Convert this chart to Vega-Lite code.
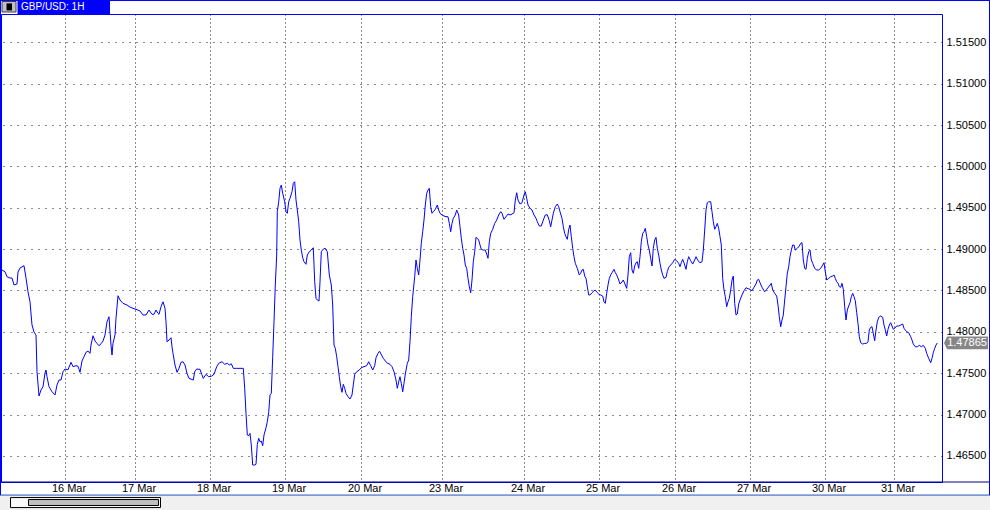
{
"$schema": "https://vega.github.io/schema/vega-lite/v6.json",
"width": 941, "height": 468,
"autosize": {"type": "none"},
"padding": {"left": 1, "top": 14, "right": 48, "bottom": 28},
"background": "white",
"config": {"view": {"stroke": "#0000ff", "strokeWidth": 1}, "font": "Liberation Sans"},
"datasets": {
"gbpusd": [
{"t":2,"p":1.48747},{"t":5,"p":1.48726},{"t":7,"p":1.48666},{"t":10,"p":1.48650},{"t":12,"p":1.48650},{"t":14,"p":1.48566},{"t":17,"p":1.48578},{"t":18,"p":1.48723},{"t":20,"p":1.48771},{"t":24,"p":1.48799},{"t":26,"p":1.48650},{"t":28,"p":1.48484},{"t":30,"p":1.48363},{"t":32,"p":1.48082},{"t":34,"p":1.47997},{"t":36,"p":1.47961},{"t":37,"p":1.47517},{"t":39,"p":1.47224},{"t":41,"p":1.47296},{"t":43,"p":1.47336},{"t":45,"p":1.47502},{"t":46,"p":1.47538},{"t":47,"p":1.47457},{"t":49,"p":1.47336},{"t":52,"p":1.47275},{"t":55,"p":1.47236},{"t":57,"p":1.47357},{"t":59,"p":1.47417},{"t":61,"p":1.47417},{"t":63,"p":1.47517},{"t":65,"p":1.47550},{"t":68,"p":1.47541},{"t":71,"p":1.47631},{"t":73,"p":1.47578},{"t":76,"p":1.47590},{"t":78,"p":1.47583},{"t":80,"p":1.47510},{"t":82,"p":1.47647},{"t":84,"p":1.47698},{"t":86,"p":1.47752},{"t":88,"p":1.47767},{"t":90,"p":1.47739},{"t":91,"p":1.47840},{"t":93,"p":1.47952},{"t":95,"p":1.47888},{"t":97,"p":1.47860},{"t":99,"p":1.47831},{"t":101,"p":1.47855},{"t":103,"p":1.47888},{"t":105,"p":1.47961},{"t":107,"p":1.48121},{"t":109,"p":1.48182},{"t":111,"p":1.47840},{"t":112,"p":1.47719},{"t":113,"p":1.47860},{"t":115,"p":1.47961},{"t":116,"p":1.48163},{"t":118,"p":1.48436},{"t":120,"p":1.48384},{"t":123,"p":1.48344},{"t":127,"p":1.48324},{"t":130,"p":1.48299},{"t":133,"p":1.48284},{"t":137,"p":1.48267},{"t":140,"p":1.48251},{"t":143,"p":1.48203},{"t":146,"p":1.48203},{"t":149,"p":1.48263},{"t":152,"p":1.48211},{"t":154,"p":1.48211},{"t":156,"p":1.48263},{"t":158,"p":1.48223},{"t":159,"p":1.48211},{"t":161,"p":1.48303},{"t":163,"p":1.48363},{"t":165,"p":1.48284},{"t":166,"p":1.48121},{"t":167,"p":1.47880},{"t":169,"p":1.47900},{"t":171,"p":1.47928},{"t":172,"p":1.47819},{"t":173,"p":1.47739},{"t":175,"p":1.47598},{"t":177,"p":1.47510},{"t":179,"p":1.47558},{"t":181,"p":1.47631},{"t":183,"p":1.47638},{"t":185,"p":1.47598},{"t":187,"p":1.47498},{"t":189,"p":1.47437},
{"t":193.3,"p":1.47417},{"t":194.7,"p":1.47517},{"t":196.7,"p":1.47550},{"t":200,"p":1.47546},{"t":201.7,"p":1.47486},{"t":203.3,"p":1.47437},{"t":206,"p":1.47486},{"t":208.7,"p":1.47457},{"t":211.3,"p":1.47462},{"t":214,"p":1.47486},{"t":216.7,"p":1.47578},{"t":218.7,"p":1.47619},{"t":222,"p":1.47638},{"t":224.7,"p":1.47607},{"t":227.3,"p":1.47619},{"t":229.3,"p":1.47598},{"t":231.3,"p":1.47614},{"t":233.3,"p":1.47558},{"t":236.7,"p":1.47558},{"t":240,"p":1.47558},{"t":243.3,"p":1.47558},{"t":244.7,"p":1.47317},{"t":246,"p":1.47014},{"t":247.3,"p":1.46752},{"t":248.7,"p":1.46743},{"t":250,"p":1.46772},{"t":251.3,"p":1.46631},{"t":252.7,"p":1.46389},{"t":254.7,"p":1.46389},{"t":256,"p":1.46398},{"t":257.3,"p":1.46639},{"t":258.7,"p":1.46712},{"t":260,"p":1.46671},{"t":261.3,"p":1.46679},{"t":262.7,"p":1.46622},{"t":264,"p":1.46752},{"t":266,"p":1.46840},{"t":267.3,"p":1.46913},{"t":268.7,"p":1.47026},{"t":270,"p":1.47236},{"t":271.3,"p":1.47256},{"t":272.7,"p":1.47698},{"t":274,"p":1.48121},{"t":275.3,"p":1.48566},{"t":276.7,"p":1.48928},{"t":277.3,"p":1.49452},{"t":278.7,"p":1.49572},{"t":280,"p":1.49735},{"t":281.3,"p":1.49774},{"t":282.7,"p":1.49674},{"t":284.7,"p":1.49572},{"t":286,"p":1.49452},{"t":287.3,"p":1.49432},{"t":288.7,"p":1.49572},{"t":290,"p":1.49614},{"t":292,"p":1.49693},{"t":293.3,"p":1.49795},{"t":294.7,"p":1.49814},{"t":296,"p":1.49593},{"t":297.3,"p":1.49472},{"t":298.7,"p":1.49331},{"t":300,"p":1.49109},{"t":301.3,"p":1.48988},{"t":302.7,"p":1.48895},{"t":304,"p":1.48847},{"t":306,"p":1.48816},{"t":307.3,"p":1.48928},{"t":309.3,"p":1.48968},{"t":311.3,"p":1.48988},{"t":313.3,"p":1.49016},{"t":314.7,"p":1.48605},{"t":316,"p":1.48405},{"t":317.3,"p":1.48384},{"t":319,"p":1.48372},{"t":320,"p":1.48605},{"t":321.3,"p":1.48968},{"t":323.3,"p":1.49000},{"t":325.3,"p":1.49009},{"t":327.3,"p":1.48968},{"t":329.3,"p":1.48687},{"t":331.3,"p":1.48566},{"t":332.7,"p":1.48324},{"t":334,"p":1.47840},{"t":335.3,"p":1.47800},{"t":336.7,"p":1.47698},{"t":338,"p":1.47578},{"t":339.3,"p":1.47457},{"t":340.7,"p":1.47336},{"t":342,"p":1.47268},{"t":343.3,"p":1.47365},{"t":344.7,"p":1.47317},{"t":346,"p":1.47256},{"t":348,"p":1.47215},{"t":350,"p":1.47187},{"t":352,"p":1.47236},{"t":353.3,"p":1.47357},{"t":354.7,"p":1.47486},{"t":356.7,"p":1.47517},{"t":359.3,"p":1.47538},{"t":361.3,"p":1.47566},{"t":364,"p":1.47578},{"t":366.7,"p":1.47590},{"t":368.7,"p":1.47638},{"t":370.7,"p":1.47590},{"t":372.7,"p":1.47538},{"t":374.7,"p":1.47590},{"t":376,"p":1.47686},{"t":378,"p":1.47739},{"t":379.5,"p":1.47765},{"t":383.3,"p":1.47679},{"t":386.7,"p":1.47626},{"t":390,"p":1.47607},{"t":392,"p":1.47578},{"t":394,"p":1.47517},{"t":396,"p":1.47417},{"t":397.3,"p":1.47317},{"t":398.7,"p":1.47396},{"t":400,"p":1.47457},{"t":401.3,"p":1.47377},{"t":402.7,"p":1.47275},{"t":404,"p":1.47377},{"t":405.3,"p":1.47489},{"t":407.3,"p":1.47619},{"t":408.7,"p":1.47659},{"t":410,"p":1.47880},{"t":411.3,"p":1.48182},{"t":412.7,"p":1.48424},{"t":414.7,"p":1.48666},{"t":416,"p":1.48868},{"t":417.3,"p":1.48767},{"t":418.7,"p":1.48687},{"t":420,"p":1.48868},{"t":421.3,"p":1.49069},{"t":422.7,"p":1.49210},{"t":424,"p":1.49351},{"t":425.3,"p":1.49533},{"t":426.7,"p":1.49674},{"t":428,"p":1.49714},{"t":429.3,"p":1.49735},{"t":430.7,"p":1.49512},{"t":432,"p":1.49432},{"t":433.3,"p":1.49452},{"t":435.3,"p":1.49481},{"t":437.3,"p":1.49533},{"t":438.7,"p":1.49472},{"t":440,"p":1.49432},{"t":442,"p":1.49412},{"t":444,"p":1.49400},{"t":446,"p":1.49391},{"t":448,"p":1.49391},{"t":449.3,"p":1.49311},{"t":450.7,"p":1.49210},{"t":452,"p":1.49311},{"t":453.3,"p":1.49372},{"t":455.3,"p":1.49412},{"t":456.7,"p":1.49472},{"t":458.7,"p":1.49412},{"t":460,"p":1.49270},{"t":461.3,"p":1.49130},{"t":462.7,"p":1.49009},{"t":464,"p":1.48928},{"t":465.3,"p":1.48807},{"t":466.7,"p":1.48767},{"t":468,"p":1.48646},{"t":469.3,"p":1.48545},{"t":470.7,"p":1.48472},{"t":472,"p":1.48626},{"t":473.3,"p":1.48847},{"t":474.7,"p":1.48968},{"t":476,"p":1.49142},{"t":477.3,"p":1.49130},{"t":478.7,"p":1.49109},{"t":480,"p":1.49049},{"t":481.3,"p":1.48997},{"t":483.3,"p":1.48988},{"t":485.3,"p":1.48988},{"t":486.7,"p":1.48940},{"t":488,"p":1.48888},{"t":489.3,"p":1.49089},{"t":490.7,"p":1.49190},{"t":492.7,"p":1.49239},{"t":494.7,"p":1.49311},{"t":496.7,"p":1.49351},{"t":498.7,"p":1.49412},{"t":500.7,"p":1.49452},{"t":502,"p":1.49432},{"t":504,"p":1.49360},{"t":506,"p":1.49391},{"t":508,"p":1.49424},{"t":510,"p":1.49412},{"t":512,"p":1.49424},{"t":514,"p":1.49439},{"t":515.3,"p":1.49593},{"t":516.7,"p":1.49681},{"t":518,"p":1.49593},{"t":520,"p":1.49545},{"t":522,"p":1.49560},{"t":524,"p":1.49654},{"t":525.3,"p":1.49693},{"t":526.7,"p":1.49614},{"t":528,"p":1.49533},{"t":530,"p":1.49493},{"t":532,"p":1.49472},{"t":534,"p":1.49412},{"t":536,"p":1.49372},{"t":537.3,"p":1.49331},{"t":539.3,"p":1.49279},{"t":541.3,"p":1.49279},{"t":543.3,"p":1.49351},{"t":545.3,"p":1.49412},{"t":547.3,"p":1.49415},{"t":549.3,"p":1.49343},{"t":550.7,"p":1.49270},{"t":552,"p":1.49351},{"t":553.3,"p":1.49432},{"t":555.3,"p":1.49512},{"t":557.3,"p":1.49545},{"t":558.7,"p":1.49512},{"t":560,"p":1.49452},{"t":562,"p":1.49372},{"t":563.3,"p":1.49270},{"t":564.7,"p":1.49190},{"t":566,"p":1.49150},{"t":567.3,"p":1.49118},{"t":568.7,"p":1.49239},{"t":570,"p":1.49291},{"t":571.3,"p":1.49150},{"t":572.7,"p":1.49009},{"t":574,"p":1.48908},{"t":575.3,"p":1.48828},{"t":577.3,"p":1.48767},{"t":579.3,"p":1.48687},{"t":580.7,"p":1.48707},{"t":582,"p":1.48747},{"t":583.3,"p":1.48755},{"t":584.7,"p":1.48674},{"t":586,"p":1.48646},{"t":587.3,"p":1.48545},{"t":588.7,"p":1.48445},{"t":590,"p":1.48445},{"t":592,"p":1.48472},{"t":594,"p":1.48496},{"t":595.3,"p":1.48505},{"t":596.7,"p":1.48481},{"t":598.7,"p":1.48457},{"t":600.7,"p":1.48445},{"t":602.7,"p":1.48432},{"t":604,"p":1.48363},{"t":605.3,"p":1.48344},{"t":606.7,"p":1.48465},{"t":608,"p":1.48566},{"t":609.3,"p":1.48646},{"t":610.7,"p":1.48687},{"t":612,"p":1.48714},{"t":614,"p":1.48755},{"t":615.3,"p":1.48714},{"t":616.7,"p":1.48687},{"t":618.7,"p":1.48626},{"t":620,"p":1.48578},{"t":622,"p":1.48602},{"t":623.3,"p":1.48626},{"t":625.3,"p":1.48566},{"t":626.7,"p":1.48525},{"t":628,"p":1.48687},{"t":629.3,"p":1.48908},{"t":630.7,"p":1.48956},{"t":632,"p":1.48747},{"t":633.3,"p":1.48707},{"t":634.7,"p":1.48795},{"t":636,"p":1.48835},{"t":637.3,"p":1.48847},{"t":638.7,"p":1.48767},{"t":640,"p":1.48908},{"t":641.3,"p":1.49089},{"t":642.7,"p":1.49190},{"t":644,"p":1.49210},{"t":645.3,"p":1.49251},{"t":646.7,"p":1.49150},{"t":648,"p":1.49049},{"t":649.3,"p":1.48988},{"t":650.7,"p":1.48888},{"t":652,"p":1.48795},{"t":653.3,"p":1.49009},{"t":654.7,"p":1.49109},{"t":656,"p":1.49142},{"t":657.3,"p":1.49009},{"t":658.7,"p":1.48928},{"t":660,"p":1.48828},{"t":661.3,"p":1.48747},{"t":662.7,"p":1.48687},{"t":664,"p":1.48646},{"t":666,"p":1.48658},{"t":667.3,"p":1.48726},{"t":668.7,"p":1.48779},{"t":670.7,"p":1.48807},{"t":672.7,"p":1.48835},{"t":674.7,"p":1.48876},{"t":676.7,"p":1.48859},{"t":678.7,"p":1.48828},{"t":680,"p":1.48787},{"t":681.3,"p":1.48835},{"t":682.7,"p":1.48876},{"t":684,"p":1.48835},{"t":686,"p":1.48755},{"t":687.3,"p":1.48847},{"t":688.7,"p":1.48908},{"t":690.7,"p":1.48859},{"t":692.7,"p":1.48819},{"t":694.7,"p":1.48868},{"t":696,"p":1.48908},{"t":698,"p":1.48859},{"t":700,"p":1.48835},{"t":702,"p":1.48847},{"t":703.3,"p":1.48988},{"t":704.7,"p":1.49230},{"t":706,"p":1.49472},{"t":707.3,"p":1.49560},{"t":708.7,"p":1.49572},{"t":710.7,"p":1.49572},{"t":712,"p":1.49452},{"t":713.3,"p":1.49331},{"t":714.7,"p":1.49239},{"t":716,"p":1.49270},{"t":717.3,"p":1.49311},{"t":718.7,"p":1.49251},{"t":720,"p":1.49150},{"t":721.3,"p":1.49049},{"t":722.7,"p":1.48646},{"t":724,"p":1.48505},{"t":725.3,"p":1.48424},{"t":726.7,"p":1.48303},{"t":728,"p":1.48363},{"t":729.3,"p":1.48405},{"t":730.7,"p":1.48505},{"t":732,"p":1.48626},{"t":733.3,"p":1.48674},{"t":734.7,"p":1.48344},{"t":736,"p":1.48203},{"t":737.3,"p":1.48215},{"t":738.7,"p":1.48336},{"t":740,"p":1.48384},{"t":742,"p":1.48445},{"t":744,"p":1.48496},{"t":746,"p":1.48533},{"t":748,"p":1.48521},{"t":750,"p":1.48513},{"t":752,"p":1.48496},{"t":754,"p":1.48538},{"t":756,"p":1.48578},{"t":757.3,"p":1.48626},{"t":758.7,"p":1.48634},{"t":760,"p":1.48593},{"t":762,"p":1.48538},{"t":764.7,"p":1.48484},{"t":766.7,"p":1.48513},{"t":769.3,"p":1.48553},{"t":771.3,"p":1.48586},{"t":772.7,"p":1.48505},{"t":774.7,"p":1.48465},{"t":776.7,"p":1.48432},{"t":778,"p":1.48324},{"t":779.3,"p":1.48182},{"t":780.7,"p":1.48061},{"t":782,"p":1.48142},{"t":783.3,"p":1.48203},{"t":784.7,"p":1.48384},{"t":786,"p":1.48545},{"t":787.3,"p":1.48707},{"t":788.7,"p":1.48787},{"t":790,"p":1.48908},{"t":791.3,"p":1.48988},{"t":792.7,"p":1.49049},{"t":794,"p":1.49049},{"t":795.3,"p":1.48988},{"t":797.3,"p":1.49009},{"t":799.3,"p":1.49037},{"t":800.7,"p":1.49069},{"t":802,"p":1.49077},{"t":803.3,"p":1.48868},{"t":804.7,"p":1.48767},{"t":806,"p":1.48755},{"t":807.3,"p":1.48888},{"t":808.7,"p":1.48968},{"t":810,"p":1.48988},{"t":811.3,"p":1.48868},{"t":812.7,"p":1.48828},{"t":814.7,"p":1.48767},{"t":816.7,"p":1.48747},{"t":818.7,"p":1.48747},{"t":820.7,"p":1.48767},{"t":822.7,"p":1.48807},{"t":824,"p":1.48835},{"t":825.3,"p":1.48726},{"t":826.7,"p":1.48626},{"t":828.7,"p":1.48646},{"t":830.7,"p":1.48666},{"t":832.7,"p":1.48674},{"t":834,"p":1.48687},{"t":835.3,"p":1.48646},{"t":836.7,"p":1.48605},{"t":838,"p":1.48586},{"t":839.3,"p":1.48545},{"t":840.7,"p":1.48538},{"t":842,"p":1.48586},{"t":843.3,"p":1.48513},{"t":844.7,"p":1.48303},{"t":846,"p":1.48142},{"t":847.3,"p":1.48263},{"t":848.7,"p":1.48312},{"t":850,"p":1.48351},{"t":851.3,"p":1.48424},{"t":852.7,"p":1.48465},{"t":854,"p":1.48424},{"t":855.3,"p":1.48376},{"t":856.7,"p":1.48231},{"t":858,"p":1.48102},{"t":859.3,"p":1.47940},{"t":860.7,"p":1.47868},{"t":862.7,"p":1.47852},{"t":864.7,"p":1.47860},{"t":866.7,"p":1.47860},{"t":868,"p":1.47880},{"t":869.3,"p":1.48021},{"t":870.7,"p":1.48054},{"t":872,"p":1.48061},{"t":873.3,"p":1.47981},{"t":874.7,"p":1.47892},{"t":876,"p":1.48021},{"t":877.3,"p":1.48121},{"t":878.7,"p":1.48175},{"t":880.7,"p":1.48191},{"t":882.7,"p":1.48175},{"t":884,"p":1.48082},{"t":885.3,"p":1.48021},{"t":886.7,"p":1.47949},{"t":888,"p":1.48030},{"t":889.3,"p":1.48082},{"t":890.7,"p":1.48110},{"t":892,"p":1.48070},{"t":893.3,"p":1.48030},{"t":894.7,"p":1.48042},{"t":896.7,"p":1.48070},{"t":898.7,"p":1.48070},{"t":900.7,"p":1.48082},{"t":902.7,"p":1.48094},{"t":904,"p":1.48042},{"t":905.3,"p":1.48021},{"t":906.7,"p":1.48001},{"t":908.7,"p":1.47989},{"t":910.7,"p":1.47940},{"t":912,"p":1.47900},{"t":913.3,"p":1.47852},{"t":915.3,"p":1.47819},{"t":917.3,"p":1.47819},{"t":919.3,"p":1.47836},{"t":921.3,"p":1.47819},{"t":923.3,"p":1.47836},{"t":925.3,"p":1.47800},{"t":926.7,"p":1.47739},{"t":928.7,"p":1.47679},{"t":930.7,"p":1.47626},{"t":932,"p":1.47679},{"t":933.3,"p":1.47747},{"t":934.7,"p":1.47800},{"t":936,"p":1.47840},{"t":937.3,"p":1.47865}
],
"last": [{"p": 1.47865, "label": "1.47865"}],
"one": [{"name": "GBP/USD: 1H"}]
},
"layer": [
{
"data": {"name": "one"},
"mark": {"type": "rect", "color": "#f0f0f0", "clip": false},
"encoding": {"x": {"datum": 0, "type": "quantitative", "title": null}, "x2": {"datum": 990},
  "y": {"datum": 1.46020, "type": "quantitative", "title": null}, "y2": {"datum": 1.45840}}
},
{
"data": {"name": "gbpusd"},
"mark": {"type": "line", "color": "#0000ff", "strokeWidth": 1, "clip": true},
"encoding": {
"x": {"field": "t", "type": "quantitative", "title": null,
  "scale": {"domain": [1, 942], "nice": false, "zero": false},
  "axis": {"title": null, "values": [65,135,210,285,361,442,524,599,675,750,825,894],
    "labelExpr": "['16 Mar','17 Mar','18 Mar','19 Mar','20 Mar','23 Mar','24 Mar','25 Mar','26 Mar','27 Mar','30 Mar','31 Mar'][indexof([65,135,210,285,361,442,524,599,675,750,825,894], datum.value)]",
    "grid": true, "gridColor": "#000000", "gridDash": [1, 3], "gridWidth": 1, "gridOpacity": 0.9,
    "ticks": false, "domain": false, "labelFont": "Liberation Sans", "labelFontSize": 11, "labelColor": "#000000",
    "labelPadding": 0, "labelOffset": 3.5, "labelFlush": false, "labelOverlap": false, "labelBaseline": "top"}},
"y": {"field": "p", "type": "quantitative", "title": null,
  "scale": {"domain": [1.46184, 1.51842], "nice": false, "zero": false},
  "axis": {"title": null, "orient": "right", "values": [1.465,1.47,1.475,1.48,1.485,1.49,1.495,1.5,1.505,1.51,1.515],
    "format": ".5f", "grid": true, "gridColor": "#000000", "gridDash": [1, 6], "gridWidth": 1, "gridOpacity": 0.9,
    "ticks": false, "domain": false, "labelFont": "Liberation Sans", "labelFontSize": 11, "labelColor": "#000000",
    "labelPadding": 4, "labelAlign": "left", "labelBaseline": "middle", "labelFlush": false, "labelOverlap": false}}
}
},
{
"data": {"name": "one"},
"mark": {"type": "rule", "color": "#000080", "strokeWidth": 1, "clip": false},
"encoding": {"x": {"datum": 0, "type": "quantitative", "title": null}, "x2": {"datum": 990},
  "y": {"datum": 1.46184, "type": "quantitative", "title": null}}
},
{
"data": {"name": "one"},
"mark": {"type": "rule", "color": "#2050c0", "strokeWidth": 1, "clip": false},
"encoding": {"x": {"datum": 0, "type": "quantitative", "title": null}, "x2": {"datum": 990},
  "y": {"datum": 1.46026, "type": "quantitative", "title": null}}
},
{
"data": {"name": "one"},
"mark": {"type": "rect", "fill": "#f8f8f8", "stroke": "#000000", "strokeWidth": 1, "clip": false},
"encoding": {"x": {"datum": 10.5, "type": "quantitative", "title": null}, "x2": {"datum": 160.5},
  "y": {"datum": 1.45996, "type": "quantitative", "title": null}, "y2": {"datum": 1.45875}}
},
{
"data": {"name": "one"},
"mark": {"type": "rect", "fill": "#c0c0c0", "stroke": "#000000", "strokeWidth": 1, "clip": false},
"encoding": {"x": {"datum": 28.5, "type": "quantitative", "title": null}, "x2": {"datum": 158.5},
  "y": {"datum": 1.45972, "type": "quantitative", "title": null}, "y2": {"datum": 1.45900}}
},
{
"data": {"name": "one"},
"mark": {"type": "rule", "color": "#0000ff", "strokeWidth": 1, "clip": false},
"encoding": {"x": {"datum": 0, "type": "quantitative", "title": null}, "x2": {"datum": 990},
  "y": {"datum": 1.52005, "type": "quantitative", "title": null}}
},
{
"data": {"name": "one"},
"mark": {"type": "rule", "color": "#0000ff", "strokeWidth": 1, "clip": false},
"encoding": {"x": {"datum": 0.5, "type": "quantitative", "title": null},
  "y": {"datum": 1.52011, "type": "quantitative", "title": null}, "y2": {"datum": 1.46026}}
},
{
"data": {"name": "one"},
"mark": {"type": "rule", "color": "#0000ff", "strokeWidth": 1, "clip": false},
"encoding": {"x": {"datum": 989.5, "type": "quantitative", "title": null},
  "y": {"datum": 1.52011, "type": "quantitative", "title": null}, "y2": {"datum": 1.46026}}
},
{
"data": {"name": "one"},
"mark": {"type": "rect", "color": "#0000ff", "clip": false},
"encoding": {"x": {"datum": 17.5, "type": "quantitative", "title": null}, "x2": {"datum": 110},
  "y": {"datum": 1.52011, "type": "quantitative", "title": null}, "y2": {"datum": 1.51842}}
},
{
"data": {"name": "one"},
"mark": {"type": "rect", "fill": "#c0c0c0", "stroke": "#404040", "strokeWidth": 1, "clip": false},
"encoding": {"x": {"datum": 2, "type": "quantitative", "title": null}, "x2": {"datum": 16},
  "y": {"datum": 1.51993, "type": "quantitative", "title": null}, "y2": {"datum": 1.51866}}
},
{
"data": {"name": "one"},
"mark": {"type": "rect", "fill": "#000000", "clip": false},
"encoding": {"x": {"datum": 6.5, "type": "quantitative", "title": null}, "x2": {"datum": 12},
  "y": {"datum": 1.51970, "type": "quantitative", "title": null}, "y2": {"datum": 1.51885}}
},
{
"data": {"name": "one"},
"mark": {"type": "text", "color": "#ffffff", "font": "Liberation Sans", "fontSize": 10, "align": "left", "baseline": "middle", "clip": false},
"encoding": {"x": {"datum": 21, "type": "quantitative", "title": null},
  "y": {"datum": 1.51926, "type": "quantitative", "title": null},
  "text": {"field": "name"}}
},
{
"data": {"name": "last"},
"mark": {"type": "point", "shape": "M -1 0 L -0.86 -0.29 L 1 -0.29 L 1 0.29 L -0.86 0.29 Z", "size": 1936, "filled": true, "fill": "#868686", "stroke": null, "opacity": 1, "clip": false},
"encoding": {"x": {"datum": 966, "type": "quantitative", "title": null},
  "y": {"field": "p", "type": "quantitative", "title": null}}
},
{
"data": {"name": "last"},
"mark": {"type": "text", "color": "#ffffff", "font": "Liberation Sans", "fontSize": 11, "align": "center", "baseline": "middle", "clip": false},
"encoding": {"x": {"datum": 967, "type": "quantitative", "title": null},
  "y": {"field": "p", "type": "quantitative", "title": null},
  "text": {"field": "label"}}
}
]
}
